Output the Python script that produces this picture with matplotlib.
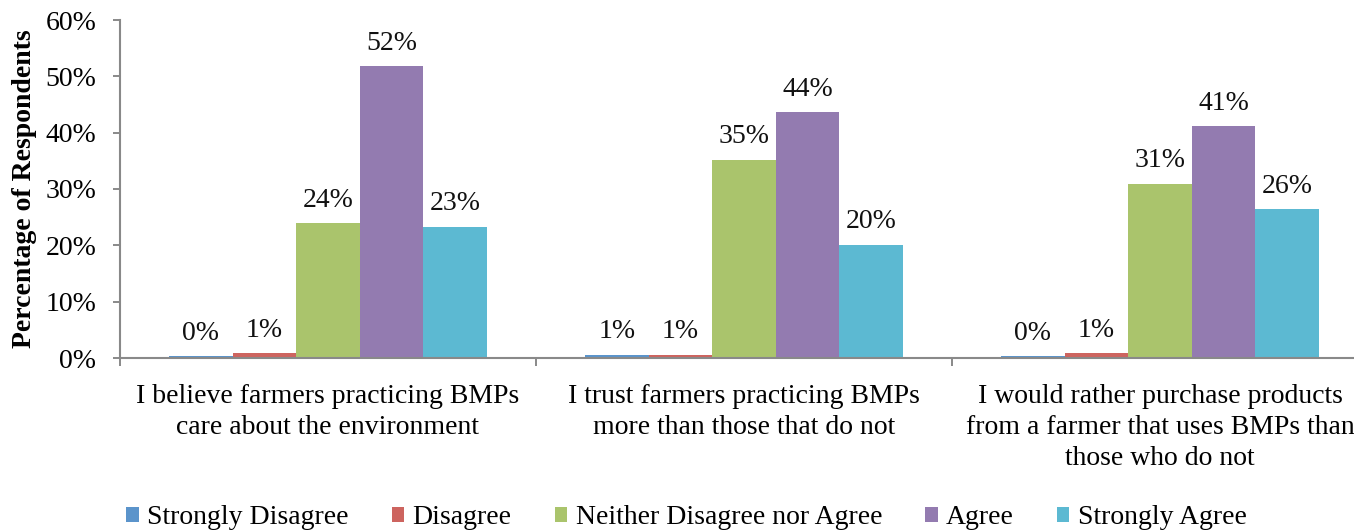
import matplotlib
matplotlib.use("Agg")
import matplotlib.pyplot as plt
import numpy as np
from matplotlib.patches import Patch

plt.rcParams['font.family'] = ['Liberation Serif', 'DejaVu Serif']

categories = [
    "I believe farmers practicing BMPs\ncare about the environment",
    "I trust farmers practicing BMPs\nmore than those that do not",
    "I would rather purchase products\nfrom a farmer that uses BMPs than\nthose who do not",
]
series_names = ["Strongly Disagree", "Disagree", "Neither Disagree nor Agree",
                "Agree", "Strongly Agree"]
strongly_disagree = [0.3, 0.6, 0.3]
disagree = [0.8, 0.6, 0.8]
neither = [23.9, 35.2, 30.9]
agree = [51.8, 43.6, 41.1]
strongly_agree = [23.3, 20.1, 26.4]
series_values = [strongly_disagree, disagree, neither, agree, strongly_agree]
colors = ["#5B94CB", "#CD645F", "#AAC46C", "#937BB0", "#5CB9D2"]
y_ticks = [0, 10, 20, 30, 40, 50, 60]

fig = plt.figure(figsize=(13.54, 5.31), dpi=100)
ax = fig.add_axes([120 / 1354, 1 - 358 / 531, 1248 / 1354, 338 / 531])

axis_gray = "#898989"
fs = 20
x = np.arange(len(categories))
bar_w = 0.153

for i, (name, vals, col) in enumerate(zip(series_names, series_values, colors)):
    pos = x + (i - 2) * bar_w
    ax.bar(pos, vals, width=bar_w, color=col, linewidth=0, label=name, zorder=2)
    for px, v in zip(pos, vals):
        ax.annotate(f"{v:.0f}%", (px, v), xytext=(0, 12), textcoords="offset points",
                    ha="center", va="baseline", fontsize=fs, color="#111111")

ax.set_xlim(-0.5, len(categories) - 0.5)
ax.set_ylim(0, 60)
ax.set_yticks(y_ticks)
ax.set_yticklabels([f"{t}%" for t in y_ticks], fontsize=fs)

# category boundaries carry the tick marks, centres carry the labels
ax.set_xticks(np.arange(len(categories) + 1) - 0.5)
ax.set_xticklabels([])
ax.set_xticks(x, minor=True)
ax.set_xticklabels(categories, minor=True, fontsize=fs, linespacing=1.3)
ax.tick_params(axis="x", which="major", length=6, width=1.4, color=axis_gray, direction="out")
ax.tick_params(axis="x", which="minor", length=0, pad=19)
ax.tick_params(axis="y", length=5, width=1.4, color=axis_gray, direction="out", pad=12)

for side in ("top", "right"):
    ax.spines[side].set_visible(False)
for side in ("left", "bottom"):
    ax.spines[side].set_color(axis_gray)
    ax.spines[side].set_linewidth(1.5)

ax.set_ylabel("Percentage of Respondents", fontsize=fs, fontweight="bold", labelpad=6)

handles = [Patch(facecolor=c, edgecolor="none") for c in colors]
fig.legend(handles, series_names, loc="center", bbox_to_anchor=(0.507, 0.025),
           ncol=5, frameon=False, fontsize=fs, handlelength=0.45, handleheight=0.45,
           handletextpad=0.3, columnspacing=1.55, borderaxespad=0, borderpad=0)

fig.savefig("out.png", dpi=100)
